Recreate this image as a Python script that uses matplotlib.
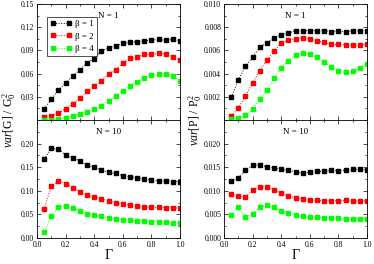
import numpy as np
import matplotlib
matplotlib.use("Agg")
import matplotlib.pyplot as plt
from matplotlib.ticker import MultipleLocator, FixedLocator, FormatStrFormatter, NullFormatter

plt.rcParams['font.family'] = ['Liberation Serif', 'DejaVu Serif']
plt.rcParams['mathtext.fontset'] = 'custom'
plt.rcParams['mathtext.rm'] = 'Liberation Serif'
plt.rcParams['mathtext.it'] = 'Liberation Serif:italic'

gamma = [0.05, 0.10, 0.15, 0.20, 0.25, 0.30, 0.35, 0.40, 0.45, 0.50,
         0.55, 0.60, 0.65, 0.70, 0.75, 0.80, 0.85, 0.90, 0.95, 1.00]

# var[G]/G0^2, N = 1
g1_b1 = [0.0146, 0.0266, 0.0390, 0.0476, 0.0574, 0.0647, 0.0741, 0.0793, 0.0891, 0.0934,
         0.0960, 0.0990, 0.1003, 0.1011, 0.1024, 0.1033, 0.1041, 0.1029, 0.1041, 0.1024]
g1_b2 = [0.0034, 0.0047, 0.0090, 0.0146, 0.0206, 0.0279, 0.0369, 0.0437, 0.0510, 0.0596,
         0.0651, 0.0733, 0.0797, 0.0810, 0.0853, 0.0850, 0.0861, 0.0853, 0.0819, 0.0776]
g1_b4 = [0.0003, 0.0005, 0.0013, 0.0026, 0.0047, 0.0073, 0.0099, 0.0146, 0.0184, 0.0249,
         0.0309, 0.0381, 0.0446, 0.0497, 0.0544, 0.0579, 0.0600, 0.0597, 0.0566, 0.0510]

# var[G]/G0^2, N = 10
g10_b1 = [0.1673, 0.1900, 0.1879, 0.1758, 0.1694, 0.1637, 0.1537, 0.1495, 0.1445, 0.1388,
          0.1367, 0.1324, 0.1295, 0.1274, 0.1246, 0.1231, 0.1210, 0.1210, 0.1196, 0.1196]
g10_b2 = [0.0619, 0.1096, 0.1210, 0.1146, 0.1068, 0.0982, 0.0911, 0.0868, 0.0833, 0.0783,
          0.0747, 0.0719, 0.0697, 0.0676, 0.0662, 0.0648, 0.0648, 0.0640, 0.0640, 0.0633]
g10_b4 = [0.0135, 0.0463, 0.0655, 0.0683, 0.0641, 0.0569, 0.0505, 0.0484, 0.0456, 0.0427,
          0.0406, 0.0391, 0.0377, 0.0370, 0.0356, 0.0349, 0.0349, 0.0342, 0.0327, 0.0313]

# var[P]/P0^2, N = 1
p1_b1 = [0.00197, 0.00343, 0.00463, 0.00543, 0.00626, 0.00666, 0.00709, 0.00737, 0.00751, 0.00769,
         0.00769, 0.00771, 0.00769, 0.00771, 0.00760, 0.00769, 0.00760, 0.00769, 0.00769, 0.00769]
p1_b2 = [0.00034, 0.00103, 0.00209, 0.00317, 0.00426, 0.00514, 0.00597, 0.00660, 0.00691, 0.00700,
         0.00709, 0.00700, 0.00680, 0.00669, 0.00651, 0.00651, 0.00646, 0.00646, 0.00649, 0.00651]
p1_b4 = [0.00006, 0.00015, 0.00040, 0.00094, 0.00180, 0.00260, 0.00360, 0.00450, 0.00510, 0.00560,
         0.00580, 0.00570, 0.00540, 0.00500, 0.00460, 0.00420, 0.00410, 0.00420, 0.00450, 0.00480]

# var[P]/P0^2, N = 10
p10_b1 = [0.01210, 0.01267, 0.01438, 0.01537, 0.01552, 0.01509, 0.01488, 0.01452, 0.01438, 0.01395,
          0.01381, 0.01388, 0.01409, 0.01409, 0.01431, 0.01424, 0.01438, 0.01452, 0.01459, 0.01445]
p10_b2 = [0.00940, 0.00883, 0.00868, 0.01025, 0.01089, 0.01075, 0.01018, 0.00947, 0.00883, 0.00854,
          0.00826, 0.00797, 0.00797, 0.00790, 0.00790, 0.00790, 0.00797, 0.00783, 0.00783, 0.00790]
p10_b4 = [0.00484, 0.00648, 0.00441, 0.00505, 0.00655, 0.00698, 0.00655, 0.00577, 0.00527, 0.00484,
          0.00456, 0.00441, 0.00441, 0.00427, 0.00420, 0.00420, 0.00413, 0.00413, 0.00413, 0.00413]

labels = ['β = 1', 'β = 2', 'β = 4']
colors = ['black', '#ff0000', '#00ff00']

fig = plt.figure(figsize=(3.74, 2.64), dpi=100)
W = 143 / 374
axs = {
    'g1': fig.add_axes([37 / 374, 1 - 120 / 264, W, 116 / 264]),
    'g10': fig.add_axes([37 / 374, 1 - 238 / 264, W, 118 / 264]),
    'p1': fig.add_axes([224 / 374, 1 - 120 / 264, W, 116 / 264]),
    'p10': fig.add_axes([224 / 374, 1 - 238 / 264, W, 118 / 264]),
}

panels = [
    ('g1', [g1_b1, g1_b2, g1_b4], 'N = 1', 0.15, 0.03, 0.015, '%.2f'),
    ('g10', [g10_b1, g10_b2, g10_b4], 'N = 10', 0.25, 0.05, 0.025, '%.2f'),
    ('p1', [p1_b1, p1_b2, p1_b4], 'N = 1', 0.010, 0.002, 0.001, '%.3f'),
    ('p10', [p10_b1, p10_b2, p10_b4], 'N = 10', 0.025, 0.005, 0.0025, '%.3f'),
]

for key, series, title, ymax, major, minor, fmt in panels:
    ax = axs[key]
    for ys, c, lab in zip(series, colors, labels):
        ax.plot(gamma, ys, ls=':', lw=0.7, color=c, marker='s', ms=3.2,
                mec=c, mfc=c, label=lab)
    ax.set_xlim(0, 1)
    ax.set_ylim(0, ymax)
    ax.xaxis.set_major_locator(FixedLocator([0.0, 0.2, 0.4, 0.6, 0.8, 1.0]))
    ax.xaxis.set_minor_locator(MultipleLocator(0.1))
    ticks = np.round(np.arange(0, ymax + major / 2, major), 6)
    if key in ('g1', 'p1'):
        shown = ticks[1:]
    else:
        shown = ticks[:-1]
    ax.yaxis.set_major_locator(FixedLocator(shown))
    ax.yaxis.set_minor_locator(MultipleLocator(minor))
    ax.yaxis.set_major_formatter(FormatStrFormatter(fmt))
    ax.tick_params(which='both', direction='in', top=True, right=True,
                   labelsize=5.5, width=0.5, pad=2)
    ax.tick_params(which='major', length=3)
    ax.tick_params(which='minor', length=1.6)
    for s in ax.spines.values():
        s.set_linewidth(0.6)
    ax.text(0.5, 0.93, title, transform=ax.transAxes, ha='center', va='top',
            fontsize=6.5)
    if key in ('g1', 'p1'):
        ax.xaxis.set_major_formatter(NullFormatter())
    else:
        ax.xaxis.set_major_formatter(FormatStrFormatter('%.1f'))
        ax.set_xlabel('Γ', fontsize=10, labelpad=0)

leg = axs['g1'].legend(loc='upper left', bbox_to_anchor=(0.07, 0.89), numpoints=2,
                       fontsize=6.5, frameon=True, fancybox=False, edgecolor='black',
                       handlelength=2.4, handletextpad=0.4, borderpad=0.35,
                       labelspacing=0.45, borderaxespad=0)
leg.get_frame().set_linewidth(0.6)

fig.text(0.025, 0.545, r'$\mathit{var}$[G] / G$_0^{\,2}$', rotation=90,
         ha='center', va='center', fontsize=8.5)
fig.text(0.522, 0.545, r'$\mathit{var}$[P] / P$_0^{\,2}$', rotation=90,
         ha='center', va='center', fontsize=8.5)

fig.savefig('out.png', dpi=100)
